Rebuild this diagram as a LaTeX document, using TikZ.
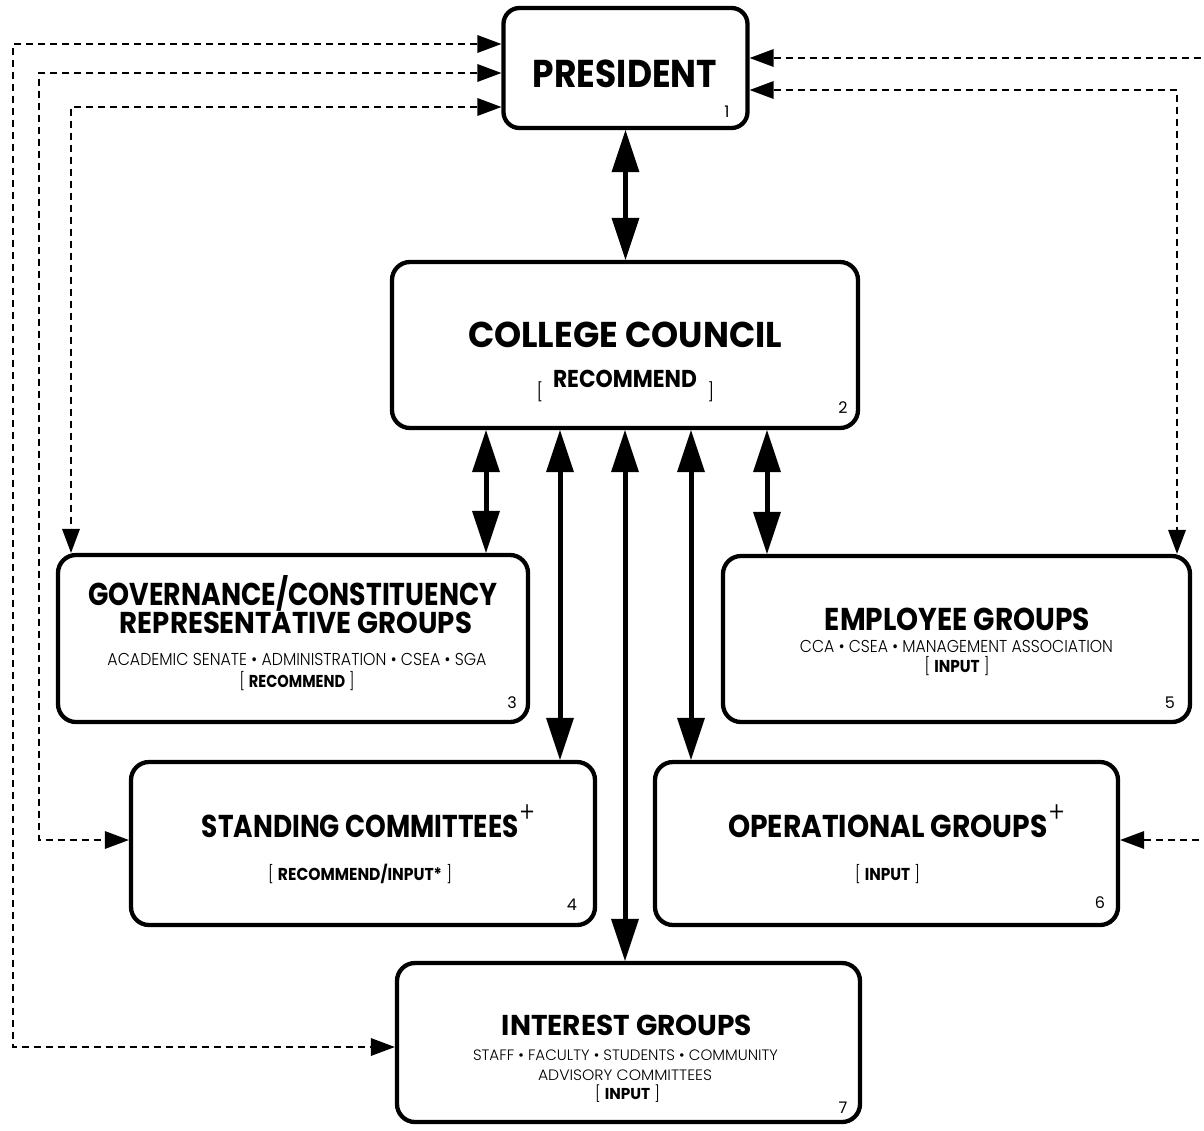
\documentclass[tikz,border=0pt]{standalone}
\usepackage{fontspec}
\setmainfont{Poppins}
\newfontfamily\lightf{Poppins Light}
\usepackage{graphicx}
\usetikzlibrary{arrows.meta}
\newlength\capH
\newcommand\fitt[3]{\settoheight\capH{H}\resizebox{#1pt}{#2pt}{\raisebox{0pt}[\capH][0pt]{#3}}}
\newcommand\plus{\kern0.3pt\raisebox{4.6pt}{\lightf\mdseries\small +}}
\tikzset{
  box/.style={draw, line width=4.3pt, rounded corners=18pt, inner sep=0pt},
  txt/.style={inner sep=0pt, anchor=center},
  num/.style={inner sep=0pt, font=\fontsize{16}{16}\selectfont},
  brk/.style={inner sep=0pt, font=\lightf\fontsize{18}{18}\selectfont},
  dbl/.style={line width=5pt,
    {Triangle[length=42pt,width=28pt,line width=0pt]}-{Triangle[length=42pt,width=28pt,line width=0pt]}},
  dashbase/.style={line width=2pt, dash pattern=on 7pt off 5pt},
  dsh/.style={dashbase,
    {Triangle[length=24pt,width=18pt,line width=0pt]}-{Triangle[length=24pt,width=18pt,line width=0pt]}},
  dshs/.style={dashbase, {Triangle[length=24pt,width=18pt,line width=0pt]}-},
}
\begin{document}
\begin{tikzpicture}[x=1pt,y=-1pt]
\fill[white] (0,0) rectangle (1204,1130);
\useasboundingbox (0,0) rectangle (1204,1130);

% boxes
\node[box, rounded corners=16pt, minimum width=244pt, minimum height=120pt] (pres) at (625.5,68) {};
\node[box, minimum width=466pt, minimum height=166pt] (cc) at (625,345) {};
\node[box, minimum width=470pt, minimum height=167pt] (gov) at (293,638.5) {};
\node[box, minimum width=467pt, minimum height=166pt] (emp) at (956.5,639) {};
\node[box, minimum width=464pt, minimum height=163pt] (stand) at (363,843.5) {};
\node[box, minimum width=463pt, minimum height=163pt] (oper) at (886.5,843.5) {};
\node[box, minimum width=463pt, minimum height=159pt] (int) at (628.5,1042.5) {};

% texts
\node[txt] (tpres) at (625,73.5) {\fitt{184}{27}{\bfseries PRESIDENT}};
\node[num] (n1) at (727,112) {1};

\node[txt] (tcc) at (625,334.5) {\fitt{314}{25}{\bfseries COLLEGE COUNCIL}};
\node[txt] (tcc2) at (625,378.5) {\fitt{144}{17}{\bfseries RECOMMEND}};
\node[brk] (bl) at (540,391.5) {[};
\node[brk] (br) at (711,391.5) {]};
\node[num] (n2) at (843,408) {2};

\node[txt] (tg1) at (293,594) {\fitt{409}{22}{\bfseries GOVERNANCE/CONSTITUENCY}};
\node[txt] (tg2) at (296,622.5) {\fitt{352}{21}{\bfseries REPRESENTATIVE GROUPS}};
\node[txt] (tg3) at (297,659) {\fitt{379}{12}{\lightf ACADEMIC SENATE • ADMINISTRATION • CSEA • SGA}};
\node[txt] (tg4) at (297,681) {\fitt{115}{12}{\lightf [ {\normalfont\bfseries RECOMMEND} ]}};
\node[num] (n3) at (512,703) {3};

\node[txt] (te1) at (957.5,619) {\fitt{265}{22}{\bfseries EMPLOYEE GROUPS}};
\node[txt] (te2) at (956.5,646) {\fitt{313}{12}{\lightf CCA • CSEA • MANAGEMENT ASSOCIATION}};
\node[txt] (te3) at (957,666.5) {\fitt{65}{12}{\lightf [ {\normalfont\bfseries INPUT} ]}};
\node[num] (n5) at (1170,703) {5};

\node[txt] (ts1) at (368.5,826) {\fitt{333}{22}{\bfseries STANDING COMMITTEES\plus}};
\node[txt] (ts2) at (360,874) {\fitt{184}{12}{\lightf [ {\normalfont\bfseries RECOMMEND/INPUT*} ]}};
\node[num] (n4) at (572,905) {4};

\node[txt] (to1) at (896.5,826) {\fitt{337}{22}{\bfseries OPERATIONAL GROUPS\plus}};
\node[txt] (to2) at (887.5,874) {\fitt{65}{12}{\lightf [ {\normalfont\bfseries INPUT} ]}};
\node[num] (n6) at (1100,903) {6};

\node[txt] (ti1) at (627,1025) {\fitt{250}{20}{\bfseries INTEREST GROUPS}};
\node[txt] (ti2) at (625.5,1055) {\fitt{305}{10.5}{\lightf STAFF • FACULTY • STUDENTS • COMMUNITY}};
\node[txt] (ti3) at (625,1075) {\fitt{174}{10.5}{\lightf ADVISORY COMMITTEES}};
\node[txt] (ti4) at (627.5,1094) {\fitt{65}{11}{\lightf [ {\normalfont\bfseries INPUT} ]}};
\node[num] (n7) at (843,1108) {7};

% thick double arrows
\draw[dbl] (pres.south) -- (pres.south |- cc.north);
\draw[dbl] (cc.south -| 486,0) -- (gov.north -| 486,0);
\draw[dbl] (cc.south -| 560,0) -- (stand.north -| 560,0);
\draw[dbl] (cc.south -| 625,0) -- (int.north -| 625,0);
\draw[dbl] (cc.south -| 691,0) -- (oper.north -| 691,0);
\draw[dbl] (cc.south -| 767,0) -- (emp.north -| 767,0);

% dashed connectors
\coordinate (L1a) at (13,44);
\coordinate (L1b) at (13,1047);
\coordinate (L2a) at (39,73);
\coordinate (L2b) at (39,840);
\coordinate (L3a) at (71,107);
\coordinate (R1) at (1210,58);
\coordinate (R2a) at (1177,90);
\coordinate (R3) at (1210,840);
\draw[dsh] (pres.west |- L1a) -- (L1a) -- (L1b) -- (int.west |- L1b);
\draw[dsh] (pres.west |- L2a) -- (L2a) -- (L2b) -- (stand.west |- L2b);
\draw[dsh] (pres.west |- L3a) -- (L3a) -- (L3a |- gov.north);
\draw[dshs] (pres.east |- R1) -- (R1);
\draw[dsh] (pres.east |- R2a) -- (R2a) -- (R2a |- emp.north);
\draw[dshs] (oper.east |- R3) -- (R3);
\end{tikzpicture}
\end{document}
